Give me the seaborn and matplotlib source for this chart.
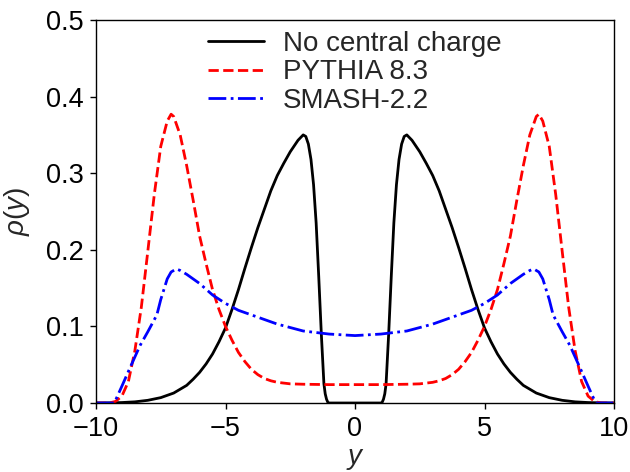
import matplotlib
matplotlib.use("Agg")
import matplotlib.pyplot as plt
import seaborn as sns

# --- data ---
black_y = [-10, -9.5, -9, -8.5, -8, -7.5, -7, -6.75, -6.5, -6.25, -6, -5.75, -5.5, -5.25, -5, -4.75, -4.5,
           -4.25, -4, -3.75, -3.5, -3.25, -3, -2.75, -2.5, -2.2, -2.0, -1.9, -1.8, -1.7, -1.6, -1.5, -1.4,
           -1.3, -1.2, -1.15, -1.1, -1.05, -1.0, 0,
           1.0, 1.05, 1.1, 1.15, 1.2, 1.3, 1.4, 1.5, 1.6, 1.7, 1.8, 1.9, 2.0, 2.2, 2.5, 2.75, 3, 3.25, 3.5,
           3.75, 4, 4.25, 4.5, 4.75, 5, 5.25, 5.5, 5.75, 6, 6.25, 6.5, 6.75, 7, 7.5, 8, 8.5, 9, 9.5, 10]
black_rho = [0, 0.0002, 0.0006, 0.0015, 0.0035, 0.007, 0.013, 0.018, 0.023, 0.031, 0.040, 0.051, 0.064, 0.080, 0.098, 0.122, 0.148,
             0.176, 0.203, 0.229, 0.253, 0.277, 0.297, 0.313, 0.328, 0.343, 0.350, 0.348, 0.338, 0.318, 0.285, 0.235, 0.165,
             0.090, 0.025, 0.012, 0.005, 0.001, 0, 0,
             0, 0.001, 0.005, 0.012, 0.025, 0.090, 0.165, 0.235, 0.285, 0.318, 0.338, 0.348, 0.350, 0.343, 0.328, 0.313, 0.297, 0.277, 0.253,
             0.229, 0.203, 0.176, 0.148, 0.122, 0.098, 0.080, 0.064, 0.051, 0.040, 0.031, 0.023, 0.018, 0.013, 0.007, 0.0035, 0.0015, 0.0006, 0.0002, 0]

red_y = [-10, -9.5, -9.25, -9.0, -8.75, -8.5, -8.25, -8.0, -7.75, -7.5, -7.25, -7.1, -7.0, -6.75, -6.5, -6.25,
         -6.0, -5.75, -5.5, -5.25, -5.0, -4.75, -4.5, -4.25, -4.0, -3.75, -3.5, -3.25, -3.0, -2.5, -2.0, -1.0, 0,
         1.0, 2.0, 2.5, 3.0, 3.25, 3.5, 3.75, 4.0, 4.25, 4.5, 4.75, 5.0, 5.25, 5.5, 5.75, 6.0, 6.25, 6.5, 6.75,
         7.0, 7.1, 7.25, 7.5, 7.75, 8.0, 8.25, 8.5, 8.75, 9.0, 9.25, 9.5, 10]
red_rho = [0, 0, 0.002, 0.009, 0.028, 0.068, 0.125, 0.198, 0.272, 0.335, 0.368, 0.377, 0.374, 0.350, 0.310, 0.265,
           0.218, 0.182, 0.148, 0.122, 0.100, 0.082, 0.066, 0.054, 0.044, 0.037, 0.032, 0.029, 0.027, 0.025, 0.0245, 0.024, 0.024,
           0.024, 0.0245, 0.025, 0.027, 0.029, 0.032, 0.037, 0.044, 0.054, 0.066, 0.082, 0.100, 0.122, 0.148, 0.182, 0.218, 0.265, 0.310, 0.350,
           0.374, 0.377, 0.368, 0.335, 0.272, 0.198, 0.125, 0.068, 0.028, 0.009, 0.002, 0, 0]

blue_y = [-10, -9.3, -9.2, -9.0, -8.7, -8.3, -8.0, -7.65, -7.5, -7.25, -7.1, -6.9, -6.75, -6.5, -6.0, -5.5,
          -5.0, -4.5, -4.0, -3.5, -3.0, -2.0, -1.0, 0,
          1.0, 2.0, 3.0, 3.5, 4.0, 4.5, 5.0, 5.5, 6.0, 6.5, 6.75, 6.9, 7.1, 7.25, 7.5, 7.65,
          8.0, 8.3, 8.7, 9.0, 9.2, 9.3, 10]
blue_rho = [0, 0, 0.007, 0.022, 0.045, 0.075, 0.093, 0.115, 0.135, 0.162, 0.171, 0.175, 0.173, 0.168, 0.156, 0.141,
            0.130, 0.121, 0.115, 0.109, 0.103, 0.094, 0.090, 0.088,
            0.090, 0.094, 0.103, 0.109, 0.115, 0.121, 0.130, 0.141, 0.156, 0.168, 0.173, 0.175, 0.171, 0.162, 0.135, 0.115,
            0.093, 0.075, 0.045, 0.022, 0.007, 0, 0]

labels = ["No central charge", "PYTHIA 8.3", "SMASH-2.2"]
x_ticks = [-10, -5, 0, 5, 10]
y_ticks = [0.0, 0.1, 0.2, 0.3, 0.4, 0.5]

# --- style ---
sns.set_style("ticks")
plt.rcParams["font.family"] = ["Liberation Sans", "DejaVu Sans"]
plt.rcParams["mathtext.fontset"] = "custom"
plt.rcParams["mathtext.it"] = "Liberation Sans:italic"
plt.rcParams["mathtext.rm"] = "Liberation Sans"

fig = plt.figure(figsize=(6.3, 4.72), dpi=100)
ax = fig.add_axes([96 / 630, 1 - 403 / 472, (614 - 96) / 630, (403 - 20) / 472])

sns.lineplot(x=black_y, y=black_rho, ax=ax, color="black", lw=2, label=labels[0], sort=False)
sns.lineplot(x=red_y, y=red_rho, ax=ax, color="red", lw=2, linestyle="--", label=labels[1], sort=False)
sns.lineplot(x=blue_y, y=blue_rho, ax=ax, color="blue", lw=2, linestyle="-.", label=labels[2], sort=False)

ax.set_xlim(-10, 10)
ax.set_ylim(0, 0.5)
ax.set_xticks(x_ticks)
ax.set_yticks(y_ticks)
ax.set_xticklabels([f"{t}".replace("-", "\u2212") for t in x_ticks])
ax.set_yticklabels([f"{t:.1f}" for t in y_ticks])
ax.tick_params(labelsize=19.5, direction="out", length=4, width=1, colors="black")
ax.tick_params(axis="x", pad=5)
ax.tick_params(axis="y", pad=5)
for s in ax.spines.values():
    s.set_linewidth(1)
    s.set_color("black")
ax.set_xlabel("$y$", fontsize=20, labelpad=3)
ax.set_ylabel(r"$\rho(y)$", fontsize=20, labelpad=10)

ax.legend(loc="upper center", frameon=False, fontsize=20, handlelength=2.0,
          handletextpad=0.7, borderaxespad=0.0, labelspacing=0.08)

fig.savefig("out.png", dpi=100)
